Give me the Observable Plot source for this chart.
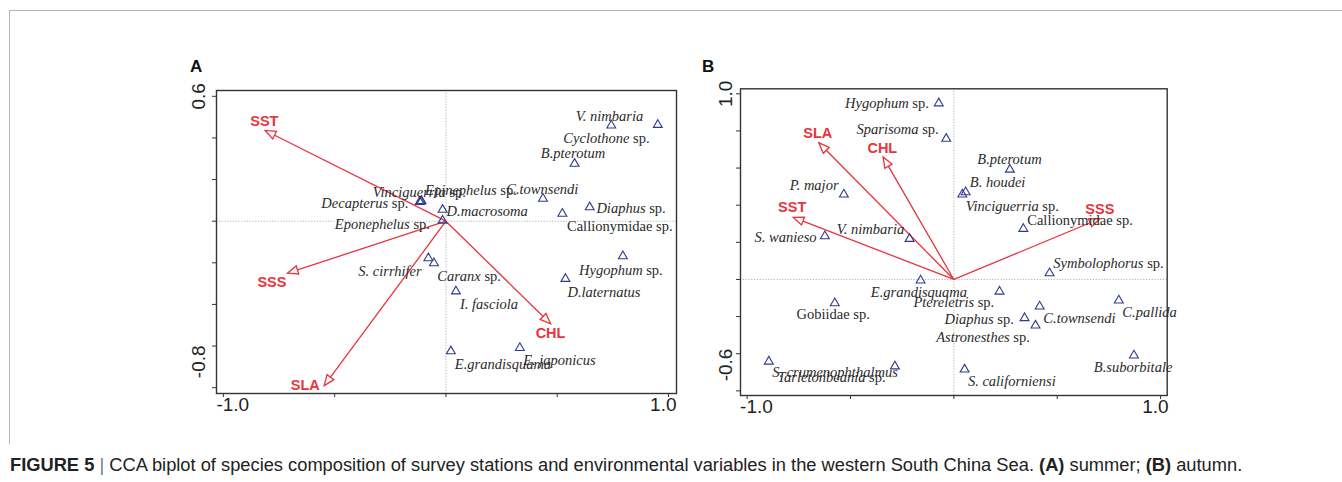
<!DOCTYPE html>
<html><head><meta charset="utf-8">
<script src="https://cdn.jsdelivr.net/npm/d3@7"></script>
<script src="https://cdn.jsdelivr.net/npm/@observablehq/plot@0.6"></script>
<style>
body{margin:0;background:#fff;}
#wrap{position:relative;width:1342px;height:482px;overflow:hidden;font-family:"Liberation Sans",Arial,sans-serif;background:#fff;}
#border{position:absolute;left:9px;top:10px;width:1400px;height:433px;border-left:1.3px solid #b4b4b4;border-top:1.3px solid #b4b4b4;}
.panel{position:absolute;top:0;}
.plabel{position:absolute;font-weight:bold;font-size:17px;line-height:17px;color:#111;}
#caption{position:absolute;left:10px;top:456px;font-size:18.3px;line-height:18.3px;color:#222;white-space:nowrap;}
</style></head>
<body><div id="wrap">
<div id="border"></div>
<div class="plabel" style="left:190px;top:58px">A</div>
<div class="plabel" style="left:702px;top:58px">B</div>
<div id="panelA" class="panel" style="left:0px"></div>
<div id="panelB" class="panel" style="left:700px"></div>
<div id="caption"><b>FIGURE 5</b> <span style="color:#777">|</span> CCA biplot of species composition of survey stations and environmental variables in the western South China Sea. <b>(A)</b> summer; <b>(B)</b> autumn.</div>
</div>
<script>
// ---------- Panel A (summer) ----------
const speciesA = ["V. nimbaria","Cyclothone sp.","B.pterotum","C.townsendi","Diaphus sp.","Callionymidae sp.","Hygophum sp.","D.laternatus","Vinciguerria sp.","Epinephelus sp.","Decapterus sp.","D.macrosoma","Eponephelus sp.","S. cirrhifer","Caranx sp.","I. fasciola","E.grandisquama","E. japonicus"];
const speciesAX = [0.743,0.952,0.578,0.436,0.646,0.523,0.795,0.537,-0.113,-0.110,-0.118,-0.015,-0.015,-0.079,-0.054,0.045,0.022,0.332];
const speciesAY = [0.460,0.463,0.276,0.108,0.067,0.036,-0.168,-0.277,0.095,0.097,0.093,0.055,0.003,-0.178,-0.202,-0.337,-0.625,-0.609];
const labelAX = [0.735,0.915,0.571,0.433,0.676,0.544,0.786,0.546,-0.329,-0.094,-0.169,0.003,-0.072,-0.109,-0.039,0.063,0.040,0.347];
const labelAY = [0.503,0.396,0.324,0.152,0.061,-0.025,-0.234,-0.341,0.139,0.148,0.084,0.048,-0.013,-0.242,-0.266,-0.400,-0.690,-0.670];
const anchorA = ["middle","end","middle","middle","start","start","middle","start","start","start","end","start","end","end","start","start","start","start"];
const envA = ["SST","SSS","SLA","CHL"];
const envAX = [-0.812,-0.712,-0.547,0.470];
const envAY = [0.436,-0.250,-0.790,-0.493];
const envLabelAX = [-0.816,-0.782,-0.632,0.470];
const envLabelAY = [0.481,-0.296,-0.790,-0.541];
const yTicksA = [0.6,0.4,0.2,0,-0.2,-0.4,-0.6,-0.8];
const yTickLabelsA = [0.6,-0.8];

// ---------- Panel B (autumn) ----------
const speciesB = ["Hygophum sp.","Sparisoma sp.","B.pterotum","B. houdei","Vinciguerria sp.","Callionymidae sp.","Symbolophorus sp.","V. nimbaria","S. wanieso","P. major","E.grandisquama","Ptereletris sp.","Gobiidae sp.","Diaphus sp.","C.townsendi","Astronesthes sp.","C.pallida","B.suborbitale","S. californiensi","S. crumenophthalmus","Tarletonbeania sp."];
const speciesBX = [-0.073,-0.037,0.271,0.057,0.041,0.336,0.463,-0.214,-0.624,-0.532,-0.161,0.221,-0.576,0.342,0.415,0.395,0.798,0.871,0.052,-0.895,-0.285];
const speciesBY = [0.949,0.758,0.592,0.470,0.458,0.273,0.034,0.219,0.233,0.458,-0.005,-0.065,-0.128,-0.208,-0.145,-0.248,-0.113,-0.409,-0.485,-0.442,-0.468];
const labelBX = [-0.121,-0.073,0.269,0.077,0.057,0.355,0.481,-0.403,-0.664,-0.676,-0.169,0,-0.584,0.290,0.433,0.141,0.815,0.867,0.068,-0.879,-0.330];
const labelBY = [0.946,0.806,0.645,0.521,0.393,0.321,0.085,0.268,0.225,0.506,-0.072,-0.125,-0.188,-0.217,-0.208,-0.314,-0.176,-0.472,-0.548,-0.502,-0.529];
const anchorB = ["end","end","middle","start","start","start","start","middle","end","middle","middle","middle","middle","end","start","middle","start","middle","start","start","end"];
const envB = ["SLA","CHL","SST","SSS"];
const envBX = [-0.653,-0.342,-0.777,0.706];
const envBY = [0.736,0.659,0.335,0.327];
const envLabelBX = [-0.658,-0.346,-0.782,0.706];
const envLabelBY = [0.788,0.704,0.389,0.375];
const yTicksB = [1.0,0.8,0.6,0.4,0.2,0,-0.2,-0.4,-0.6];
const yTickLabelsB = [1.0,-0.6];

// shared axis ticks
const xTicks = [-1,-0.5,0,0.5,1];
const xTickLabels = [-1,1];

const RED = "#e8343c";
const NAVY = "#2e3a8f";
const upright = new Set(["Callionymidae sp.","Gobiidae sp."]);

function makePanel(cfg){
  const sp = cfg.species.map((name,i)=>({name,x:cfg.sx[i],y:cfg.sy[i],lx:cfg.lx[i],ly:cfg.ly[i],anchor:cfg.anchor[i]}));
  const en = cfg.env.map((name,i)=>({name,x:cfg.ex[i],y:cfg.ey[i],lx:cfg.elx[i],ly:cfg.ely[i]}));
  const tickFont = {fontFamily:"Liberation Sans, Arial, sans-serif",fontSize:19,fill:"#222"};
  const svg = Plot.plot({
    width:cfg.width,height:cfg.height,
    marginTop:cfg.mt,marginBottom:cfg.mb,marginLeft:cfg.ml,marginRight:cfg.mr,
    style:{background:"transparent",overflow:"visible",fontFamily:"Liberation Sans, Arial, sans-serif"},
    x:{domain:cfg.xDomain,axis:null},
    y:{domain:cfg.yDomain,axis:null},
    marks:[
      Plot.ruleX([0],{stroke:"#a0a0a0",strokeWidth:0.8,strokeDasharray:"1.2,1.6"}),
      Plot.ruleY([0],{stroke:"#a0a0a0",strokeWidth:0.8,strokeDasharray:"1.2,1.6"}),
      Plot.frame({stroke:"#333",strokeWidth:1.4}),
      Plot.axisX(xTicks,{anchor:"bottom",tickSize:4,tickFormat:()=>"",label:null,stroke:"#333"}),
      Plot.axisY(cfg.yTicks,{anchor:"left",tickSize:4,tickFormat:()=>"",label:null,stroke:"#333"}),
      Plot.text([xTickLabels[0]],{x:d=>d,frameAnchor:"bottom",dy:17,dx:-7,textAnchor:"start",text:d=>d.toFixed(1),...tickFont}),
      Plot.text([xTickLabels[1]],{x:d=>d,frameAnchor:"bottom",dy:17,dx:8,textAnchor:"end",text:d=>d.toFixed(1),...tickFont}),
      Plot.text([cfg.yLabels[0]],{y:d=>d,frameAnchor:"left",rotate:-90,dx:cfg.ydx,textAnchor:"middle",text:d=>d.toFixed(1),...tickFont}),
      Plot.text([cfg.yLabels[1]],{y:d=>d,frameAnchor:"left",rotate:-90,dx:cfg.ydx,dy:-9.5,textAnchor:"start",text:d=>d.toFixed(1),...tickFont}),
      Plot.link(en,{x1:()=>0,y1:()=>0,x2:"x",y2:"y",stroke:RED,strokeWidth:1.3}),
      Plot.dot(sp,{x:"x",y:"y",symbol:"triangle",r:3.3,stroke:NAVY,strokeWidth:1.1,fill:"none"}),
      ...["start","middle","end"].map(a=>Plot.text(sp.filter(d=>d.anchor===a),{x:"lx",y:"ly",text:"name",textAnchor:a,fontFamily:"Liberation Serif, Times New Roman, serif",fontSize:14.5,fill:"#2a2a2a"})),
      Plot.text(en,{x:"lx",y:"ly",text:"name",fill:RED,fontWeight:"bold",fontSize:14.5,fontFamily:"Liberation Sans, Arial, sans-serif"})
    ]
  });
  const s = d3.select(svg);
  // open-triangle arrowheads for environmental vectors
  const defs = s.insert("defs",":first-child");
  defs.append("marker").attr("id",cfg.id+"-head").attr("viewBox","-13 -7 15 14").attr("refX",0).attr("refY",0)
    .attr("markerWidth",15).attr("markerHeight",14).attr("markerUnits","userSpaceOnUse").attr("orient","auto")
    .append("path").attr("d","M0,0L-10.5,-4.2L-10.5,4.2Z").attr("fill","#fff").attr("stroke",RED).attr("stroke-width",1.3);
  s.selectAll('g[aria-label="link"] path').attr("marker-end",`url(#${cfg.id}-head)`);
  // italic genus names, upright "sp."
  const names = new Set(cfg.species);
  s.selectAll("text").each(function(){
    const t = this.textContent;
    if(!names.has(t)) return;
    const el = d3.select(this);
    el.text(null);
    if(upright.has(t)){ el.append("tspan").text(t); return; }
    if(t.endsWith(" sp.")){
      el.append("tspan").attr("font-style","italic").text(t.slice(0,-4));
      el.append("tspan").text(" sp.");
    } else {
      el.append("tspan").attr("font-style","italic").text(t);
    }
  });
  return svg;
}

document.getElementById("panelA").append(makePanel({
  id:"A",species:speciesA,sx:speciesAX,sy:speciesAY,lx:labelAX,ly:labelAY,anchor:anchorA,
  env:envA,ex:envAX,ey:envAY,elx:envLabelAX,ely:envLabelAY,
  xDomain:[-1.031,1.036],yDomain:[-0.828,0.628],yTicks:yTicksA,yLabels:yTickLabelsA,
  width:700,height:440,mt:90,mb:47,ml:216,mr:24,ydx:-18
}));
document.getElementById("panelB").append(makePanel({
  id:"B",species:speciesB,sx:speciesBX,sy:speciesBY,lx:labelBX,ly:labelBY,anchor:anchorB,
  env:envB,ex:envBX,ey:envBY,elx:envLabelBX,ely:envLabelBY,
  xDomain:[-1.032,1.032],yDomain:[-0.625,1.027],yTicks:yTicksB,yLabels:yTickLabelsB,
  width:642,height:440,mt:88.3,mb:45,ml:40,mr:175.3,ydx:-15
}));
</script>
</body></html>
